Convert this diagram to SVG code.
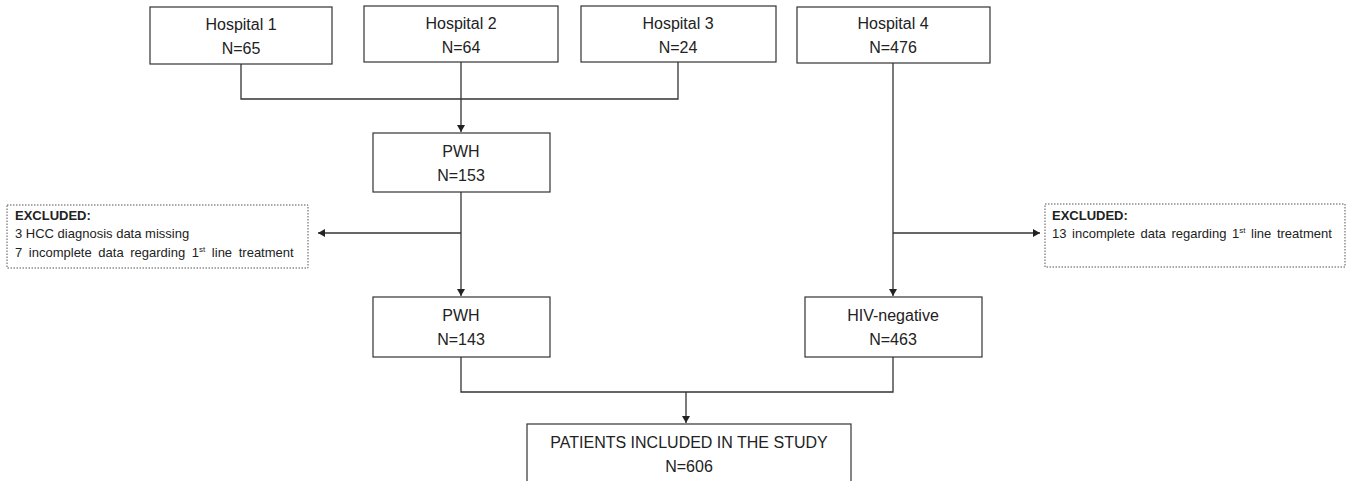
<svg xmlns="http://www.w3.org/2000/svg" width="1351" height="481" viewBox="0 0 1351 481">
<style>
.box{fill:#fff;stroke:#333;stroke-width:1.2}
.ex{fill:#fff;stroke:#555;stroke-width:1;stroke-dasharray:1.5 1.5}
.t{font-family:"Liberation Sans",Arial,sans-serif;font-size:16px;fill:#222;text-anchor:middle}
.s{font-family:"Liberation Sans",Arial,sans-serif;font-size:13px;fill:#222}
.b{font-weight:bold}
.ln{fill:none;stroke:#333;stroke-width:1.3}
</style>
<defs>
<marker id="ar" markerWidth="8" markerHeight="8" refX="7" refY="4" orient="auto" markerUnits="userSpaceOnUse">
<path d="M0,0 L7,4 L0,8 Z" fill="#222"/>
</marker>
</defs>
<g id="connectors">
<polyline class="ln" points="241,64 241,99 678,99 678,62"/>
<line class="ln" x1="461" y1="62" x2="461" y2="132" marker-end="url(#ar)"/>
<line class="ln" x1="461" y1="192" x2="461" y2="296" marker-end="url(#ar)"/>
<line class="ln" x1="461" y1="233" x2="318" y2="233" marker-end="url(#ar)"/>
<line class="ln" x1="893" y1="63" x2="893" y2="296" marker-end="url(#ar)"/>
<line class="ln" x1="893" y1="233" x2="1040" y2="233" marker-end="url(#ar)"/>
<polyline class="ln" points="461,357 461,392 893,392 893,357"/>
<line class="ln" x1="686" y1="392" x2="686" y2="423" marker-end="url(#ar)"/>
</g>
<g id="hospital1">
<rect class="box" x="150" y="7" width="182" height="57"/>
<text class="t" x="241" y="30">Hospital 1</text>
<text class="t" x="241" y="54">N=65</text>
</g>
<g id="hospital2">
<rect class="box" x="364" y="6" width="194" height="56"/>
<text class="t" x="461" y="29">Hospital 2</text>
<text class="t" x="461" y="53">N=64</text>
</g>
<g id="hospital3">
<rect class="box" x="581" y="6" width="195" height="56"/>
<text class="t" x="678" y="29">Hospital 3</text>
<text class="t" x="678" y="53">N=24</text>
</g>
<g id="hospital4">
<rect class="box" x="797" y="7" width="193" height="56"/>
<text class="t" x="893" y="29">Hospital 4</text>
<text class="t" x="893" y="53">N=476</text>
</g>
<g id="pwh153">
<rect class="box" x="373" y="133" width="177" height="59"/>
<text class="t" x="461" y="157">PWH</text>
<text class="t" x="461" y="181">N=153</text>
</g>
<g id="excluded-left">
<rect class="ex" x="7" y="205" width="301" height="63"/>
<text class="s b" x="15" y="220">EXCLUDED:</text>
<text class="s" x="15" y="238">3 HCC diagnosis data missing</text>
<text class="s" x="15" y="257" word-spacing="3">7 incomplete data regarding  1<tspan font-size="8" dy="-5">st</tspan><tspan dy="5"> line treatment</tspan></text>
</g>
<g id="excluded-right">
<rect class="ex" x="1045" y="204" width="300" height="63"/>
<text class="s b" x="1052" y="220">EXCLUDED:</text>
<text class="s" x="1052" y="238" word-spacing="2">13 incomplete data regarding 1<tspan font-size="8" dy="-5">st</tspan><tspan dy="5"> line treatment</tspan></text>
</g>
<g id="pwh143">
<rect class="box" x="373" y="297" width="177" height="60"/>
<text class="t" x="461" y="321">PWH</text>
<text class="t" x="461" y="345">N=143</text>
</g>
<g id="hivneg">
<rect class="box" x="805" y="297" width="177" height="60"/>
<text class="t" x="893" y="321">HIV-negative</text>
<text class="t" x="893" y="345">N=463</text>
</g>
<g id="included">
<rect class="box" x="527" y="424" width="324" height="70"/>
<text class="t" x="689" y="448">PATIENTS INCLUDED IN THE STUDY</text>
<text class="t" x="689" y="472">N=606</text>
</g>
</svg>
